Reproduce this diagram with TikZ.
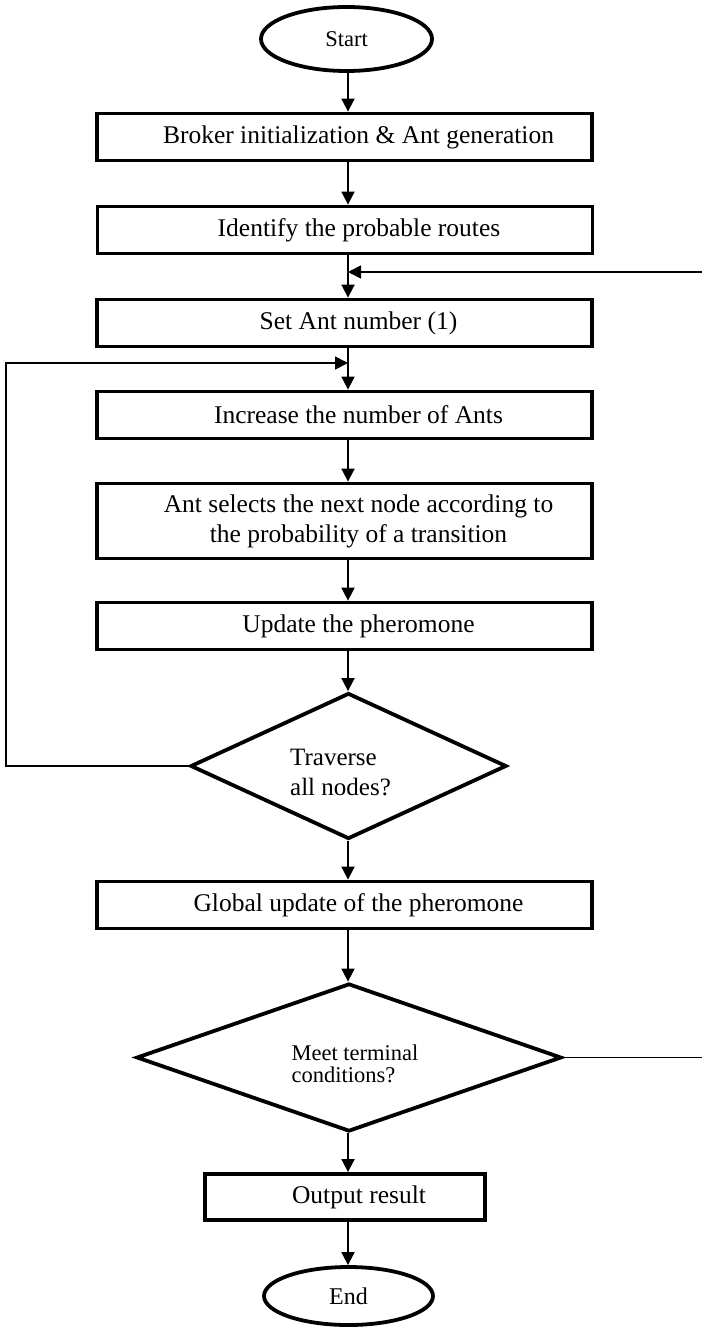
\documentclass[tikz,border=0pt]{standalone}
\usepackage{fontspec}
\setmainfont{Liberation Serif}
\usetikzlibrary{shapes.geometric,arrows.meta}

\tikzset{
	box/.style={draw, line width=3.8pt, minimum width=495pt, minimum height=47pt, inner sep=0pt,
		font=\fontsize{25.5}{30}\selectfont, align=center, execute at begin node=\hspace*{28pt}},
	term/.style={draw, ellipse, line width=3.8pt, inner sep=0pt},
	decide/.style={draw, diamond, line width=3.8pt, inner sep=0pt},
	arr/.style={line width=1.8pt, -{Triangle[length=13pt,width=13pt]}}
}

\begin{document}
\begin{tikzpicture}[x=1pt, y=-1pt]
		
		\useasboundingbox (0,0) rectangle (701,1329);
		
		\node[term, minimum width=171pt, minimum height=64pt, font=\fontsize{22.5}{27}\selectfont] (start) at (346.5,39) {Start};
		\node[box] (init) at (344.5,137) {Broker initialization \& Ant generation};
		\node[box] (routes) at (345,230) {Identify the probable routes};
		\node[box] (setnum) at (344.5,323) {Set Ant number (1)};
		\node[box] (incr) at (344.5,415) {Increase the number of Ants};
		\node[box, minimum height=75pt] (select) at (344.5,521) {Ant selects the next node according to\\the probability of a transition};
		\node[box] (local) at (344.5,626) {Update the pheromone};
		\node[decide, minimum width=316pt, minimum height=146pt,
			label={[xshift=-8pt, yshift=-6pt, align=left, font=\fontsize{25}{30}\selectfont]center:Traverse\\all nodes?}] (trav) at (348.5,766) {};
		\node[box] (global) at (344.5,905) {Global update of the pheromone};
		\node[decide, minimum width=425pt, minimum height=148pt,
			label={[xshift=6pt, yshift=-6pt, align=left, font=\fontsize{22.5}{22}\selectfont]center:Meet terminal\\conditions?}] (meet) at (349,1057.5) {};
		\node[box, minimum width=280pt, minimum height=46pt] (out) at (345,1197) {Output result};
		\node[term, minimum width=169pt, minimum height=58pt, font=\fontsize{24}{28}\selectfont] (end) at (348.5,1296) {End};
		
		% main line and the two way backs
		\coordinate (axis) at (348,0);
		\coordinate (lft) at (6,0);
		\coordinate (rgt) at (704,0);
		\coordinate (back) at (348,363);
		\coordinate (again) at (348,272);
		
		\foreach \a/\b in {start/init, init/routes, routes/setnum, setnum/incr, incr/select, select/local, local/trav, trav/global, global/meet, meet/out, out/end}
			\draw[arr] (\a.south -| axis) -- (\b.north -| axis);
		
		\draw[arr] (trav.west) -- (trav.west -| lft) |- (back);
		\draw[arr] (meet.east) -- (meet.east -| rgt) |- (again);
		
\end{tikzpicture}
\end{document}
